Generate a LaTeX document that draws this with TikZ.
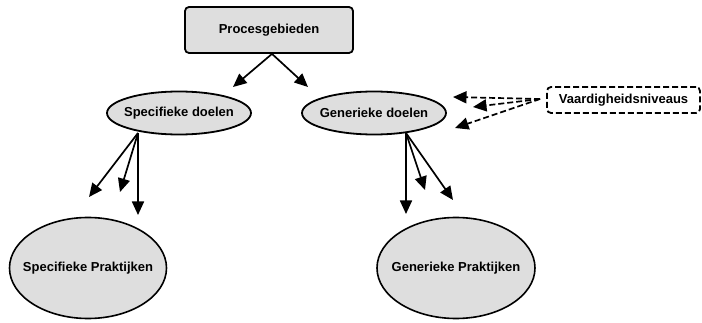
\documentclass[tikz,border=0pt]{standalone}
\usepackage{fontspec}
\setmainfont{Liberation Sans}
\usetikzlibrary{shapes.geometric,arrows.meta}
\begin{document}
\begin{tikzpicture}[x=1pt,y=-1pt,
  font=\fontsize{13}{15}\selectfont\bfseries,
  boxfill/.style={fill=black!13},
  rootbox/.style={draw, boxfill, line width=1.8pt, rounded corners=4pt,
    minimum width=168pt, minimum height=46pt, inner sep=0pt},
  % ellipses keep their given size: the text box is narrowed so it never widens them
  goal/.style={draw, boxfill, ellipse, line width=1.8pt,
    minimum width=144pt, minimum height=43pt, inner ysep=0pt, inner xsep=-45pt},
  practice/.style={draw, boxfill, ellipse, line width=1.6pt,
    minimum width=157pt, minimum height=101pt, inner ysep=0pt, inner xsep=-60pt},
  levelbox/.style={draw, dashed, dash pattern=on 6pt off 3pt, line width=1.8pt,
    rounded corners=4pt, minimum width=153pt, minimum height=26pt, inner sep=0pt},
  link/.style={line width=1.7pt, -{Triangle[length=13.5pt,width=12pt]}},
  dlink/.style={link, dash pattern=on 6pt off 3pt}]
  \useasboundingbox (0,0) rectangle (702,323);

  % nodes
  \node[rootbox] (pg) at (269,30) {Procesgebieden};
  \node[goal] (sd) at (179,113) {Specifieke doelen};
  \node[goal] (gd) at (374,113) {Generieke doelen};
  \node[practice] (sp) at (88,268) {Specifieke Praktijken};
  \node[practice, minimum width=158pt] (gp) at (456,268) {Generieke Praktijken};
  \node[levelbox] (vn) at (623.5,100) {Vaardigheidsniveaus};

  % arrow ends
  \coordinate (pgL) at (233,87);
  \coordinate (pgR) at (308,87);
  \coordinate (sdA) at (89,197);
  \coordinate (sdB) at (120,192);
  \coordinate (sdC) at (138,215);
  \coordinate (gdA) at (406,214);
  \coordinate (gdB) at (425,190);
  \coordinate (gdC) at (453,200);
  \coordinate (vnA) at (453,97);
  \coordinate (vnB) at (473,107);
  \coordinate (vnC) at (455,128);
  \coordinate (sdo) at (138,133);
  \coordinate (gdo) at (406,133);
  \coordinate (vno) at (540,99);

  % connectors
  \draw[link] ([xshift=3pt]pg.south) -- (pgL);
  \draw[link] ([xshift=3pt]pg.south) -- (pgR);
  \draw[link] (sdo) -- (sdA);
  \draw[link] (sdo) -- (sdB);
  \draw[link] (sdo) -- (sdC);
  \draw[link] (gdo) -- (gdA);
  \draw[link] (gdo) -- (gdB);
  \draw[link] (gdo) -- (gdC);
  \draw[dlink] (vno) -- (vnA);
  \draw[dlink] (vno) -- (vnB);
  \draw[dlink] (vno) -- (vnC);
\end{tikzpicture}
\end{document}
